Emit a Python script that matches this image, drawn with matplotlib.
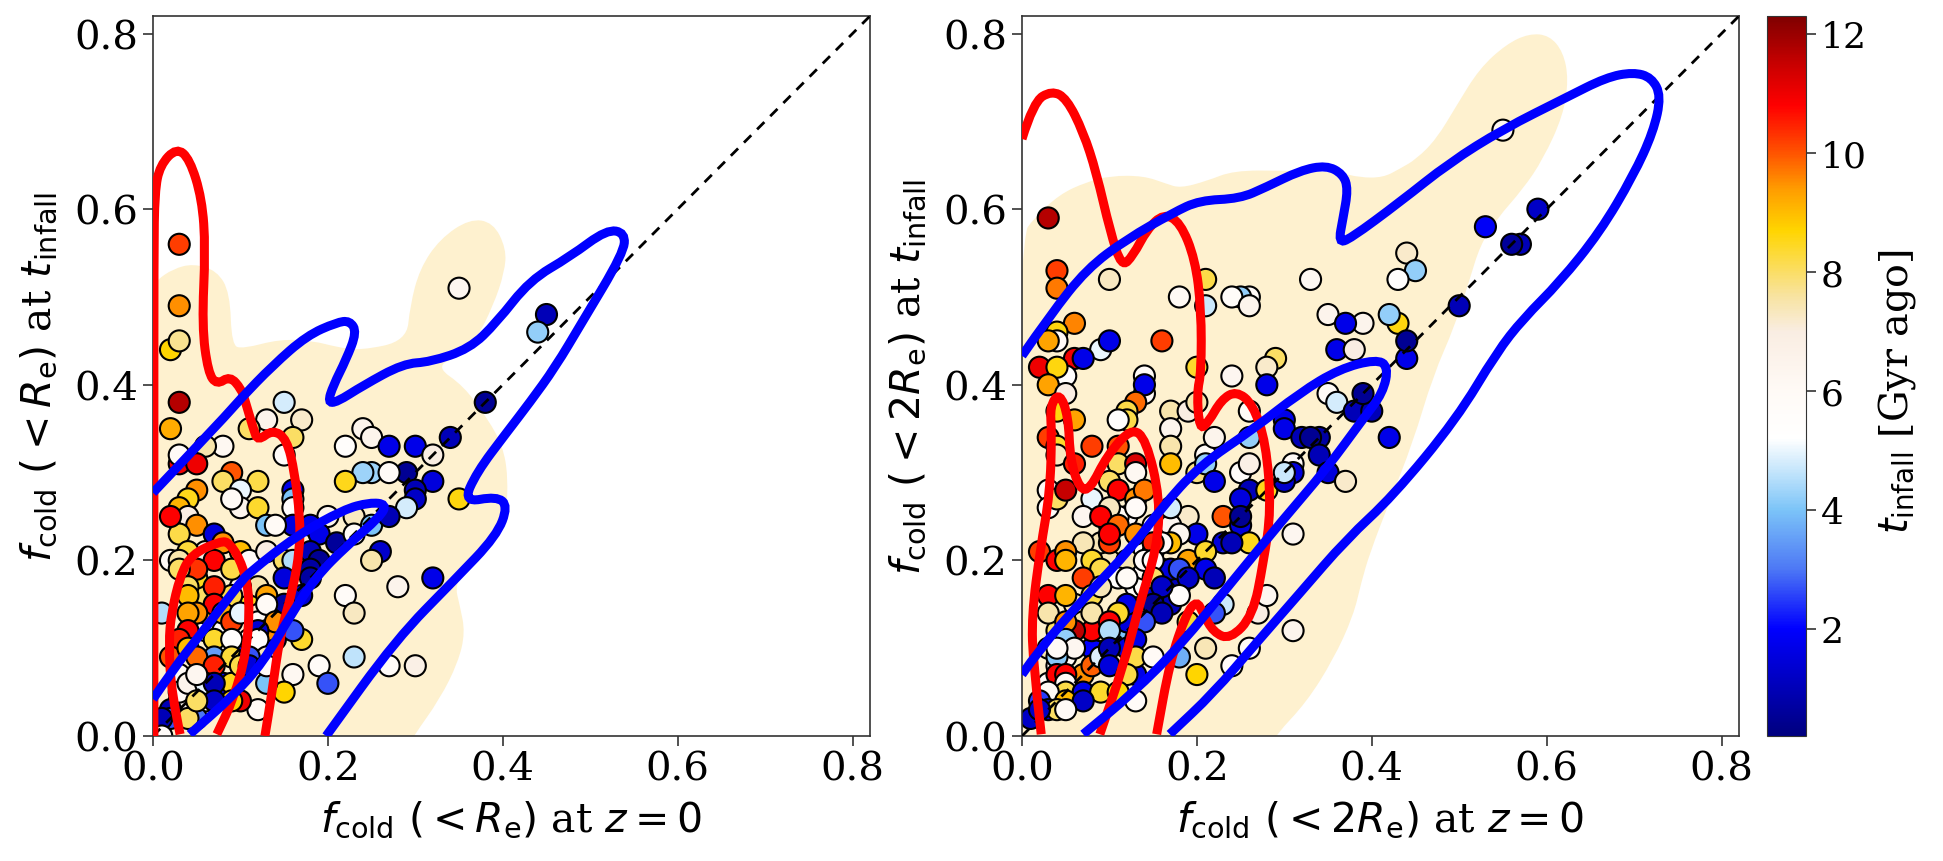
import numpy as np
import matplotlib
matplotlib.use("Agg")
import matplotlib.pyplot as plt
from matplotlib.colors import LinearSegmentedColormap
from matplotlib.patches import PathPatch
from matplotlib.path import Path

plt.rcParams['font.family'] = 'DejaVu Serif'
plt.rcParams['mathtext.fontset'] = 'dejavusans'

# left panel points: cold fraction at z=0, at infall, infall time
x1 = [.06,.03,.03,.04,.06,.06,.08,.08,.10,.11,
      .06,.08,.06,.09,.11,.12,.10,.09,.06,.05,
      .06,.12,.14,.13,
      .03,.03,.02,.03,.03,.02,.35,.13,.17,.15,
      .38,.45,.44,.11,.34,.24,.25,.22,.27,.30,
      .32,.16,.08,.06,.03,.03,.05,.15,.29,.25,
      .24,.27,.32,.30,.30,.22,.35,.29,.09,.08,
      .12,.10,.05,.04,.03,.04,.05,.03,.02,.10,
      .12,.09,.16,.16,.16,.16,.13,.14,.20,.18,
      .07,.08,.04,.10,.07,.05,.09,.02,.03,.03,
      .04,.04,.07,.07,.13,.11,.13,.15,.16,.19,
      .21,.18,.19,.18,.15,.18,.17,.15,.23,.23,
      .25,.27,.26,.25,.32,.28,.22,.23,.23,.27,
      .30,.19,.20,.16,.15,.17,.16,.12,.10,.01,
      .05,.04,.08,.13,.14,.12,.12,.13,.09,.10,
      .04,.03,.07,.09,.02,.04,.07,.09,.11,.05,
      .07,.09,.10,.13,.11,.13,.02,.02,.05,.04,
      .09,.01,.01,.03,.04,.06,.07,.05,.07,.05]
y1 = [.04,.07,.04,.04,.08,.12,.12,.06,.10,.11,
      .07,.10,.14,.15,.16,.17,.17,.16,.16,.18,
      .21,.13,.11,.12,
      .56,.49,.44,.45,.38,.35,.51,.36,.36,.38,
      .38,.48,.46,.35,.34,.35,.34,.33,.33,.33,
      .32,.34,.33,.33,.31,.32,.31,.32,.30,.30,
      .30,.30,.29,.28,.27,.29,.27,.26,.30,.29,
      .29,.28,.28,.27,.26,.25,.24,.23,.25,.26,
      .26,.27,.28,.27,.26,.24,.24,.24,.25,.24,
      .23,.22,.21,.21,.20,.19,.19,.20,.20,.19,
      .17,.16,.17,.15,.16,.20,.21,.20,.20,.23,
      .22,.21,.20,.19,.18,.18,.16,.15,.25,.23,
      .24,.25,.21,.20,.18,.17,.16,.14,.09,.08,
      .08,.08,.06,.07,.05,.11,.12,.03,.04,.14,
      .14,.14,.14,.15,.13,.12,.11,.09,.13,.14,
      .12,.11,.11,.11,.09,.10,.09,.09,.09,.09,
      .08,.06,.08,.06,.08,.08,.03,.02,.02,.02,
      .04,.02,.00,.05,.06,.06,.06,.07,.04,.04]
t1 = [5.8,6,5.5,6.1,10,5.8,6,2,1.5,5.5,
      3,5.6,9.3,10,8.5,7.5,7,8.2,8,8.5,
      7,5.8,1.7,9.5,
      10.2,9.5,8.7,7.7,11.7,9.2,6.3,6.5,7.2,4.8,
      .5,1,4.2,8,1,6.5,6.5,5.6,1.7,1.7,
      7,8,6.2,7.5,11,6,11,5.8,.5,4.3,
      4.3,6,1.5,1,1.2,8.5,8.6,4.8,10,8,
      8.2,5,9.5,8.5,9.1,7,9.5,8.2,10.8,6.5,
      8.4,6,1.7,4,5.5,1.5,4,6,6.5,1.7,
      1.5,9.5,8.3,9,10.8,10.3,8.2,6,7.5,8,
      8,9,10.5,10.8,9.3,6,7,8,4.5,1.7,
      .6,1,.5,.7,1.5,.7,1.4,.7,7.3,6,
      4,1,1.3,7.5,1.7,6.5,5.8,7.3,4.6,5.8,
      6.8,5.8,2.7,6.2,8.7,8.4,2.7,6,11,4.5,
      9.5,9.3,9.2,6,9.5,1.4,5.5,7.4,10.2,5,
      10.8,10.5,8.4,5.5,10,9,3.5,8.3,2.7,9.8,
      10.5,8.5,8.2,4,1.5,5.8,1,2.7,3,8,
      8.8,1,5.8,6,6.5,5,1,6.3,1.2,8]

# right panel points
x2 = [.06,.03,.04,.05,.07,.08,.09,.03,.04,.06,
      .07,.08,.11,.12,.12,.13,.14,.12,.11,.10,
      .14,.14,.15,.15,.12,.11,.10,.09,.16,.18,
      .17,.17,.15,.13,
      .03,.04,.04,.10,.21,.18,.21,.26,.25,.24,
      .26,.33,.44,.45,.43,.35,.39,.37,.43,.42,
      .44,.44,.36,.38,.06,.04,.04,.03,.09,.10,
      .06,.07,.16,.02,.05,.04,.03,.29,.28,.20,
      .24,.14,.14,.14,.28,.05,.04,.06,.03,.08,
      .11,.04,.04,.06,.11,.13,.13,.13,.12,.12,
      .11,.17,.19,.20,.17,.17,.17,.20,.21,.21,
      .22,.22,.26,.26,.25,.26,.26,.25,.28,.23,
      .25,.25,.26,.23,.24,.30,.30,.32,.34,.33,
      .34,.35,.37,.31,.31,.30,.30,.35,.36,.38,
      .40,.39,.42,.03,.03,.04,.05,.10,.11,.13,
      .14,.13,.08,.10,.07,.09,.11,.10,.10,.13,
      .07,.02,.04,.05,.05,.08,.09,.07,.12,.19,
      .17,.20,.17,.18,.17,.16,.15,.14,.15,.19,
      .21,.18,.21,.22,.19,.11,.12,.15,.18,.16,
      .15,.16,.14,.12,.13,.03,.05,.08,.09,.03,
      .08,.11,.10,.10,.06,.05,.05,.06,.04,.08,
      .09,.10,.10,.13,.15,.04,.04,.05,.05,.05,
      .07,.09,.12,.11,.03,.13,.05,.07,.01,.02,
      .03,.04,.05,.02,.20,.21,.18,.24,.26,.31,
      .27,.28,.31,.23,.22,.19,.53,.57,.56,.59,
      .50,.55]
y2 = [.05,.06,.08,.09,.07,.10,.12,.10,.12,.15,
      .13,.12,.11,.10,.13,.17,.17,.19,.19,.20,
      .19,.21,.21,.24,.25,.25,.24,.22,.19,.17,
      .19,.15,.16,.07,
      .59,.53,.51,.52,.52,.50,.49,.50,.50,.50,
      .49,.52,.55,.53,.52,.48,.47,.47,.47,.48,
      .43,.45,.44,.44,.47,.46,.45,.45,.44,.45,
      .43,.43,.45,.42,.41,.42,.40,.43,.42,.42,
      .41,.41,.39,.40,.40,.39,.37,.36,.34,.33,
      .33,.33,.32,.31,.31,.31,.30,.38,.37,.36,
      .36,.37,.37,.38,.35,.33,.31,.30,.32,.31,
      .34,.29,.37,.34,.30,.31,.28,.27,.28,.25,
      .24,.25,.22,.22,.22,.36,.35,.34,.34,.34,
      .32,.30,.29,.31,.30,.29,.30,.39,.38,.37,
      .37,.39,.34,.28,.26,.27,.28,.29,.28,.27,
      .28,.26,.27,.26,.25,.25,.24,.22,.23,.23,
      .22,.21,.20,.21,.20,.20,.19,.18,.20,.25,
      .24,.23,.26,.23,.22,.22,.22,.20,.20,.20,
      .21,.19,.19,.18,.18,.18,.18,.18,.16,.17,
      .15,.14,.13,.15,.11,.16,.16,.16,.17,.14,
      .14,.14,.13,.12,.12,.13,.11,.10,.09,.08,
      .09,.10,.08,.09,.09,.10,.07,.07,.06,.05,
      .05,.05,.07,.05,.05,.04,.04,.04,.02,.04,
      .03,.03,.03,.03,.07,.10,.09,.08,.10,.12,
      .14,.16,.23,.15,.14,.13,.58,.56,.56,.60,
      .49,.69]
t2 = [6,6,5.8,6,9.5,2,7.4,7.5,8,7.4,
      7.5,10.8,4,1.5,1.5,5.7,5.8,6,6.3,7.4,
      6,5.8,6.5,6.3,5.5,6,7,7.4,7.4,1,
      1.5,1,1.2,1.7,
      11.7,10.2,9.7,7.3,8.2,6.1,4.7,6,4.2,5.7,
      6.5,6.2,7.2,4.2,5.5,6.5,6.5,1.7,8.6,4.2,
      1.7,.5,1.7,7,9.6,8.6,6,9.3,5,1.7,
      11,1.7,10.2,11,5.5,8.6,9.3,8,7.2,8.4,
      6.3,5.8,6,1.7,1.7,7,8.6,9.3,10.2,10.2,
      10,8.4,7.3,10.5,8,11.3,6.2,9.8,8.2,8.2,
      5.5,7.5,7,7.5,6.5,7.5,9,7.8,6,4.2,
      6.5,1.7,5.8,4.2,5.7,6.8,1,1.5,8.5,10,
      1.5,.5,8.5,1.5,1,1.7,1.7,1,.7,.5,
      1,1.5,7.2,6,1.5,1.3,4.7,6,4.8,1,
      1,.5,1.7,6,5.8,8,11.5,8,10.8,9.5,
      9.7,5.8,5,7.3,6.3,10.8,9.8,10.2,10.8,9.5,
      7.4,10.2,10.8,9.5,9.1,8.4,8.2,10.2,7.4,7.2,
      6.3,1.7,4.8,6.3,9,5.8,10.5,5.8,5.6,9.3,
      8.4,2.7,1.7,1,1.2,5.5,6,8,5.6,1.2,
      .5,1,2.7,1.7,1.7,10.8,9.1,8.2,7.4,7.5,
      7.5,8.4,10.8,4.5,11.6,9.5,4.2,6.3,4.1,9.9,
      4.9,1,1.5,8.2,6,6,10.8,10.8,6,8.2,
      1.7,8.4,8.2,8.7,6.1,5.8,9,1.2,1.2,2.5,
      1.5,8,6,1.2,8.7,7.4,3.7,5.8,6,6.5,
      7,6.3,6.3,4.7,2.7,8.4,1.9,1,.6,1.2,
      1,6.3]

# contour outlines
fill1_x = [.02,-.03,-.03,0,.004,.023,.046,.073,.088,.09,.103,.145,.183,.21,.237,.29,.294,.305,.328,.362,.389,.404,.402,.389,.37,.347,.324,.355,.383,.40,.406,.404,.387,.362,.345,.351,.357,.349,.328,.298,.28,.02]
fill1_y = [-.03,-.03,.02,.51,.519,.532,.538,.53,.505,.445,.441,.452,.45,.443,.439,.45,.49,.532,.566,.589,.585,.555,.528,.49,.452,.433,.42,.399,.361,.33,.296,.25,.22,.194,.173,.148,.118,.084,.042,0,-.03,-.03]
blue1a_x = [0,.08,.1,.137,.176,.21,.225,.233,.221,.206,.2,.21,.24,.286,.317,.362,.393,.431,.477,.519,.54,.538,.49,.46,.431,.404,.37,.355,.393,.406,.393,.345,.278,.198]
blue1a_y = [.277,.361,.384,.422,.456,.471,.473,.46,.429,.399,.38,.38,.399,.424,.426,.441,.471,.519,.546,.577,.573,.55,.47,.42,.38,.345,.30,.266,.273,.262,.228,.178,.11,0]
blue1b_x = [0,.023,.056,.10,.11,.164,.218,.248,.267,.26,.221,.187,.157,.126,.092,.042]
blue1b_y = [.042,.076,.118,.175,.186,.228,.258,.266,.264,.25,.216,.182,.137,.084,.046,.002]
red1a_x = [.001,.001,.001,.002,.008,.027,.042,.056,.06,.056,.063,.073,.088,.101,.105,.115,.12,.137,.153,.162,.168,.168,.16,.145,.136,.128]
red1a_y = [0,.3,.55,.62,.65,.67,.657,.612,.555,.467,.414,.40,.41,.395,.383,.349,.336,.349,.338,.30,.25,.213,.167,.114,.049,0]
red1b_x = [.031,.021,.018,.021,.031,.044,.077,.088,.103,.111,.107,.092,.073]
red1b_y = [.002,.049,.106,.14,.182,.207,.222,.22,.194,.156,.095,.042,.002]

fill2_x = [.02,-.03,-.03,0,.013,.043,.074,.101,.139,.165,.181,.211,.242,.299,.363,.386,.413,.432,.451,.474,.497,.523,.554,.58,.603,.619,.625,.619,.596,.573,.543,.524,.512,.495,.47,.447,.42,.398,.388,.379,.356,.325,.291,.27,.02]
fill2_y = [-.03,-.03,.02,.57,.589,.617,.631,.638,.638,.629,.624,.632,.644,.644,.642,.636,.636,.646,.657,.68,.718,.76,.788,.80,.798,.779,.748,.707,.657,.623,.589,.559,.52,.467,.41,.334,.266,.209,.175,.137,.087,.038,.002,-.03,-.03]
blue2a_x = [0,.032,.074,.12,.173,.203,.249,.279,.318,.348,.367,.373,.367,.362,.375,.432,.489,.55,.622,.668,.699,.72,.731,.722,.699,.661,.615,.573,.543,.497,.424,.371,.318,.268,.219,.169]
blue2a_y = [.433,.479,.532,.566,.596,.61,.612,.625,.644,.65,.64,.623,.589,.562,.566,.608,.653,.691,.727,.75,.756,.75,.729,.688,.638,.574,.517,.475,.437,.361,.273,.224,.163,.106,.049,.002]
blue2b_x = [0,.02,.07,.127,.158,.203,.264,.318,.363,.405,.419,.413,.39,.348,.299,.242,.181,.127,.07]
blue2b_y = [.07,.099,.156,.216,.258,.308,.349,.391,.418,.429,.421,.391,.361,.304,.247,.178,.103,.049,.002]
red2a_x = [0,.013,.034,.051,.07,.085,.101,.114,.127,.143,.162,.181,.198,.205,.205,.20,.203,.213,.228,.245,.264,.279,.285,.276,.264,.238,.219,.207,.2,.188,.169,.154]
red2a_y = [.68,.722,.735,.726,.688,.642,.574,.534,.547,.577,.595,.585,.543,.486,.414,.391,.349,.357,.383,.393,.378,.334,.258,.197,.137,.11,.118,.14,.154,.14,.084,.002]
red2b_x = [.022,.013,.011,.021,.032,.034,.032,.043,.053,.055,.066,.078,.097,.125,.142,.158,.154,.135,.116,.089]
red2b_y = [.002,.08,.137,.213,.277,.345,.376,.391,.364,.315,.281,.281,.319,.351,.338,.27,.213,.152,.08,.002]

lims = [0, 0.82]
ticks = [0.0, 0.2, 0.4, 0.6, 0.8]
cbar_ticks = [2, 4, 6, 8, 10, 12]
t_min, t_max = 0.2, 12.3

# colour nodes
nodes = [(0.2, '#00007f'), (2.0, '#0000ff'), (3.0, '#4d78f5'), (4.0, '#7cc4f8'),
         (4.6, '#bfe3fb'), (5.2, '#ffffff'), (6.0, '#fffaf6'), (7.0, '#f9ede2'),
         (7.6, '#f8e3a0'), (8.7, '#ffd500'), (9.4, '#ff9c00'), (10.0, '#ff5400'),
         (10.8, '#ff0000'), (11.5, '#c80000'), (12.3, '#7f0000')]
cmap = LinearSegmentedColormap.from_list(
    'infall', [((t - t_min) / (t_max - t_min), c) for t, c in nodes], N=512)


def smooth(xs, ys):
    # quadratic spline through the midpoints, so the outlines do not look angular
    pts = np.column_stack([xs, ys])
    mids = (pts[:-1] + pts[1:]) / 2
    verts = [pts[0]]
    codes = [Path.MOVETO]
    for i in range(1, len(pts) - 1):
        verts += [pts[i], mids[i]]
        codes += [Path.CURVE3, Path.CURVE3]
    verts.append(pts[-1])
    codes.append(Path.LINETO)
    return Path(verts, codes)


def panel(ax, x, y, t, fill, reds, blues, xlabel, ylabel):
    ax.add_patch(PathPatch(smooth(*fill), fc='#fef1cf', ec='none', zorder=1))
    sc = ax.scatter(x, y, c=t, s=230, cmap=cmap, vmin=t_min, vmax=t_max,
                    edgecolors='k', linewidths=1.5, zorder=2)
    ax.plot(lims, lims, color='k', lw=2, linestyle=(0, (3.7, 3.0)), zorder=3)
    for line in reds:
        ax.add_patch(PathPatch(smooth(*line), fc='none', ec='#ff0000', lw=6.5, zorder=4))
    for line in blues:
        ax.add_patch(PathPatch(smooth(*line), fc='none', ec='#0000ff', lw=6.5, zorder=5))
    ax.set_xlim(lims)
    ax.set_ylim(lims)
    ax.set_xticks(ticks)
    ax.set_yticks(ticks)
    ax.tick_params(labelsize=29, length=7, width=1.2, color='#333333')
    for s in ax.spines.values():
        s.set_color('#333333')
        s.set_linewidth(1.2)
    ax.set_xlabel(xlabel, fontsize=29.5, labelpad=8)
    ax.set_ylabel(ylabel, fontsize=29.5, labelpad=11)
    return sc


W, H = 1943, 862
fig = plt.figure(figsize=(W / 100, H / 100), dpi=100)
ax1 = fig.add_axes([153 / W, (H - 737) / H, 717 / W, 720 / H])
ax2 = fig.add_axes([1022 / W, (H - 737) / H, 717 / W, 720 / H])
cax = fig.add_axes([1767 / W, (H - 737) / H, 39 / W, 720 / H])

panel(ax1, x1, y1, t1, (fill1_x, fill1_y), [(red1a_x, red1a_y), (red1b_x, red1b_y)],
      [(blue1a_x, blue1a_y), (blue1b_x, blue1b_y)],
      r'$f_{\rm cold}\ (<R_{\rm e})$ at $z=0$', r'$f_{\rm cold}\ (<R_{\rm e})$ at $t_{\rm infall}$')
sc = panel(ax2, x2, y2, t2, (fill2_x, fill2_y), [(red2a_x, red2a_y), (red2b_x, red2b_y)],
           [(blue2a_x, blue2a_y), (blue2b_x, blue2b_y)],
           r'$f_{\rm cold}\ (<2R_{\rm e})$ at $z=0$', r'$f_{\rm cold}\ (<2R_{\rm e})$ at $t_{\rm infall}$')

cb = fig.colorbar(sc, cax=cax, ticks=cbar_ticks)
cb.ax.tick_params(labelsize=26, length=7, width=1.2, color='#333333')
cb.outline.set_edgecolor('#333333')
cb.set_label(r'$t_{\rm infall}$ [Gyr ago]', fontsize=28.5, labelpad=7)
cb.ax.yaxis.label.set_y(0.48)

fig.savefig('out.png', dpi=100)
